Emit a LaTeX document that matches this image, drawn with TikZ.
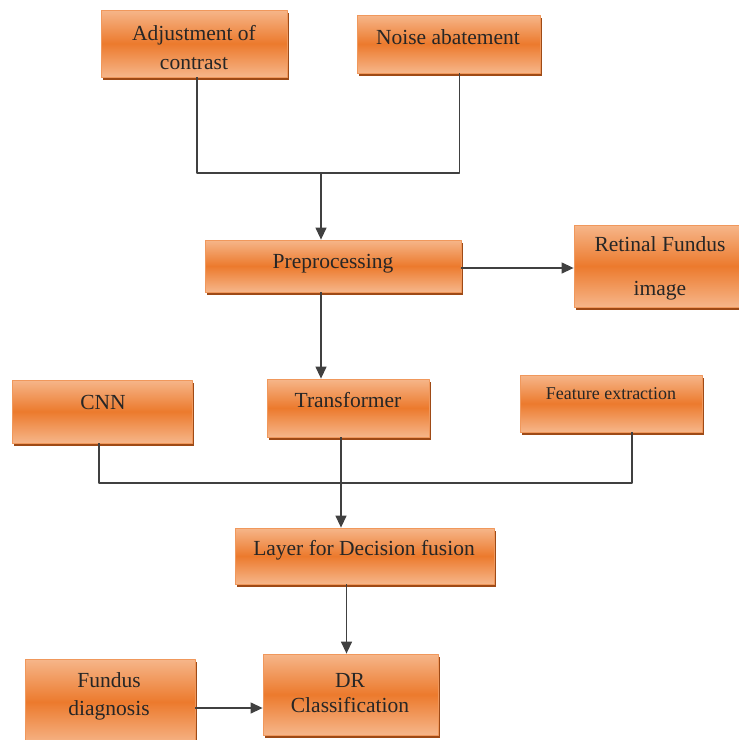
\documentclass[tikz,border=0pt]{standalone}
\usepackage{fontspec}
\setmainfont{Liberation Serif}
\newfontfamily\boxfont{Liberation Serif}
\usetikzlibrary{arrows.meta,shadows}
\definecolor{orlight}{RGB}{246,182,138}
\definecolor{ordark}{RGB}{236,122,45}
\definecolor{oredge}{RGB}{240,152,92}
\definecolor{orshadow}{RGB}{158,74,22}
\tikzset{
	box/.style={draw=oredge,line width=0.8pt,top color=orlight,bottom color=orlight,middle color=ordark,inner sep=0pt,
		drop shadow={shadow xshift=2pt,shadow yshift=-3pt,fill=orshadow,opacity=1}},
	lbl/.style={font=\boxfont\fontsize{21.5}{29}\selectfont,align=center,inner sep=0pt,text=black!85},
	con/.style={draw=black!75,line width=1.3pt},
	arr/.style={con,-{Triangle[width=11pt,length=12pt]}},
}
\begin{document}
\begin{tikzpicture}[x=1pt,y=-1pt,line join=round]
	\useasboundingbox (0,0) rectangle (739,740);
	% boxes
	\node[box,minimum width=186,minimum height=67] (adj) at (194,43.5) {};
	\node[box,minimum width=183,minimum height=58] (noise) at (448.5,44) {};
	\node[box,minimum width=256,minimum height=52] (pre) at (333,266) {};
	\node[box,minimum width=176,minimum height=82] (ret) at (662,266) {};
	\node[box,minimum width=180,minimum height=63] (cnn) at (102,411.5) {};
	\node[box,minimum width=162,minimum height=58] (trf) at (348,408) {};
	\node[box,minimum width=182,minimum height=57] (feat) at (611,403.5) {};
	\node[box,minimum width=259,minimum height=56] (lay) at (364.5,556) {};
	\node[box,minimum width=175,minimum height=81] (dr) at (350.5,694.5) {};
	\node[box,minimum width=170,minimum height=86] (fd) at (110,702) {};
	% texts
	\node[lbl] (adj-t) at (194,47.5) {Adjustment of\\contrast};
	\node[lbl] (noise-t) at (448,37) {Noise abatement};
	\node[lbl] (pre-t) at (333,264) {Preprocessing};
	\node[lbl,font=\boxfont\fontsize{21.5}{44}\selectfont] (ret-t) at (660,268) {Retinal Fundus\\image};
	\node[lbl] (cnn-t) at (103,402) {CNN};
	\node[lbl] (trf-t) at (348,400) {Transformer};
	\node[lbl,font=\boxfont\fontsize{18}{24}\selectfont] (feat-t) at (611,394) {Feature extraction};
	\node[lbl] (lay-t) at (364,550) {Layer for Decision fusion};
	\node[lbl,font=\boxfont\fontsize{21.5}{25}\selectfont] (dr-t) at (350,693) {DR\\Classification};
	\node[lbl,font=\boxfont\fontsize{21.5}{28}\selectfont] (fd-t) at (109,696) {Fundus\\diagnosis};
	% joins
	\coordinate (j1) at (321,173);
	\coordinate (j2) at (341,483);
	% connectors
	\draw[con] ([xshift=3]adj.south) |- (j1) -| ([xshift=11]noise.south);
	\draw[arr] (j1) -- (j1 |- pre.north);
	\draw[arr] ([yshift=-2]pre.east) -- ([yshift=-2]pre.east -| ret.west);
	\draw[arr] (j1 |- pre.south) -- (j1 |- trf.north);
	\draw[con] ([xshift=-3]cnn.south) |- (j2) -| ([xshift=21]feat.south);
	\draw[con] (j2 |- trf.south) -- (j2);
	\draw[arr] (j2) -- (j2 |- lay.north);
	\draw[arr] ([xshift=-18]lay.south) -- ([xshift=-18]lay.south |- dr.north);
	\draw[arr] ([yshift=-6]fd.east) -- ([yshift=-6]fd.east -| dr.west);
\end{tikzpicture}
\end{document}
